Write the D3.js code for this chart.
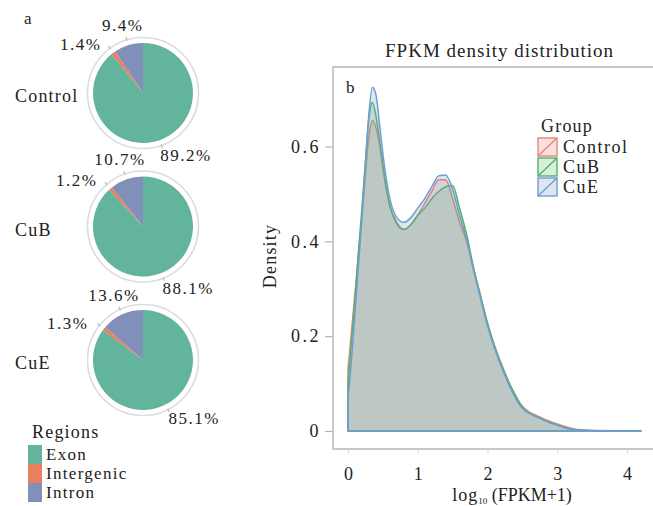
<!DOCTYPE html>
<html>
<head>
<meta charset="utf-8">
<script src="https://cdn.jsdelivr.net/npm/d3@7"></script>
<style>
  html, body { margin: 0; padding: 0; background: #ffffff; }
  svg { display: block; }
</style>
</head>
<body>
<svg id="chart" width="653" height="506" font-family="Liberation Serif, DejaVu Serif, serif"></svg>
<script>
// ---- panel a: read-region composition per sample ----
const samples = ["Control", "CuB", "CuE"];
const regionNames = ["Exon", "Intergenic", "Intron"];
const exonPct = [89.2, 88.1, 85.1];
const intergenicPct = [1.4, 1.2, 1.3];
const intronPct = [9.4, 10.7, 13.6];

// ---- panel b: FPKM density per group ----
const groups = ["Control", "CuB", "CuE"];
const logFpkm = [0, 0.05, 0.1, 0.15, 0.2, 0.25, 0.3, 0.35, 0.4, 0.45, 0.5, 0.55, 0.6, 0.7, 0.8, 0.9,
  1.0, 1.1, 1.2, 1.3, 1.4, 1.5, 1.6, 1.7, 1.8, 1.9, 2.0, 2.1, 2.2, 2.3, 2.4, 2.5, 2.6, 2.7, 2.8, 2.9,
  3.0, 3.1, 3.2, 3.3, 3.4, 3.6, 3.8, 4.0, 4.2];
const densityControl = [0.13, 0.21, 0.29, 0.37, 0.45, 0.54, 0.62, 0.655, 0.64, 0.605, 0.555, 0.51, 0.475, 0.44, 0.425, 0.435,
  0.455, 0.48, 0.505, 0.53, 0.53, 0.49, 0.44, 0.40, 0.34, 0.285, 0.225, 0.18, 0.14, 0.105, 0.075, 0.052, 0.04, 0.033, 0.026, 0.02,
  0.015, 0.01, 0.006, 0.003, 0.002, 0.001, 0.0005, 0.0002, 0];
const densityCuB = [0.10, 0.19, 0.28, 0.38, 0.47, 0.57, 0.66, 0.693, 0.665, 0.615, 0.56, 0.51, 0.475, 0.437, 0.425, 0.435,
  0.455, 0.47, 0.49, 0.505, 0.515, 0.518, 0.47, 0.415, 0.345, 0.285, 0.228, 0.18, 0.14, 0.105, 0.075, 0.05, 0.038, 0.03, 0.024, 0.018,
  0.013, 0.008, 0.004, 0.002, 0.001, 0.0005, 0.0002, 0.0001, 0];
const densityCuE = [0.07, 0.15, 0.25, 0.35, 0.45, 0.56, 0.67, 0.725, 0.71, 0.65, 0.585, 0.53, 0.49, 0.45, 0.44, 0.45,
  0.47, 0.49, 0.515, 0.538, 0.54, 0.51, 0.455, 0.405, 0.34, 0.28, 0.222, 0.175, 0.135, 0.10, 0.07, 0.048, 0.037, 0.03, 0.023, 0.017,
  0.012, 0.007, 0.004, 0.002, 0.001, 0.0005, 0.0003, 0.0001, 0];
const xTicks = [0, 1, 2, 3, 4];
const yTicks = [0, 0.2, 0.4, 0.6];

const svg = d3.select("#chart");
const serif = "Liberation Serif, DejaVu Serif, serif";
const textColor = "#222";
const gridGray = "#b5b5b5";

// ================= panel a =================
const regionColor = d3.scaleOrdinal()
  .domain(regionNames)
  .range(["#62b49c", "#e8805f", "#8190b9"]);

const pieCenters = d3.scaleLinear().domain([0, 2]).range([93, 360]);
const pieCx = 143;
const pieR = 50;
const ringR = 55.5;

const pie = d3.pie()
  .sort(null)
  .value(d => d.value)
  .startAngle(0)
  .endAngle(-2 * Math.PI);
const arc = d3.arc().innerRadius(0).outerRadius(pieR);

svg.append("text")
  .attr("x", 24).attr("y", 24)
  .attr("font-size", 17).attr("fill", textColor)
  .text("a");

samples.forEach((s, i) => {
  const cy = pieCenters(i);
  const slices = pie([
    { region: "Intron", value: intronPct[i] },
    { region: "Intergenic", value: intergenicPct[i] },
    { region: "Exon", value: exonPct[i] }
  ]);
  const g = svg.append("g").attr("transform", `translate(${pieCx},${cy})`);

  // outer polar ring
  g.append("circle")
    .attr("r", ringR)
    .attr("fill", "#ffffff")
    .attr("stroke", "#dcdcdc")
    .attr("stroke-width", 1.6);

  g.selectAll("path.slice")
    .data(slices)
    .join("path")
    .attr("class", "slice")
    .attr("d", arc)
    .attr("fill", d => regionColor(d.data.region));

  // angular ticks and percentage labels at slice mid-angles
  slices.forEach(d => {
    const a = (d.startAngle + d.endAngle) / 2;
    const sx = Math.sin(a), cyn = -Math.cos(a);
    g.append("line")
      .attr("x1", sx * (ringR - 1)).attr("y1", cyn * (ringR - 1))
      .attr("x2", sx * (ringR + 3)).attr("y2", cyn * (ringR + 3))
      .attr("stroke", "#bdbdbd").attr("stroke-width", 1.2);
    const lr = 70;
    const anchor = sx > 0.3 ? "start" : (sx < -0.5 ? "end" : "middle");
    const dx = anchor === "start" ? -6 : 0;
    const dy = anchor === "start" ? 2 : (anchor === "end" ? 13 : 5);
    g.append("text")
      .attr("x", sx * lr + dx)
      .attr("y", cyn * lr + dy)
      .attr("text-anchor", anchor)
      .attr("font-size", 17)
      .attr("letter-spacing", 1.5)
      .attr("fill", textColor)
      .text(d.data.value.toFixed(1) + "%");
  });

  svg.append("text")
    .attr("x", 15).attr("y", cy + 9)
    .attr("font-size", 18)
    .attr("letter-spacing", 1.2)
    .attr("fill", textColor)
    .text(s);
});

// region legend
const regLeg = svg.append("g").attr("transform", "translate(28,445)");
regLeg.append("text")
  .attr("x", 4).attr("y", -7)
  .attr("font-size", 18).attr("letter-spacing", 1.2)
  .attr("fill", textColor)
  .text("Regions");
regionNames.forEach((r, i) => {
  regLeg.append("rect")
    .attr("x", 0).attr("y", i * 19)
    .attr("width", 14).attr("height", 19)
    .attr("fill", regionColor(r));
  regLeg.append("text")
    .attr("x", 18).attr("y", i * 19 + 15)
    .attr("font-size", 17).attr("letter-spacing", 1.3)
    .attr("fill", textColor)
    .text(r);
});

// ================= panel b =================
const x = d3.scaleLinear().domain([0, 4]).range([348, 627]);
const y = d3.scaleLinear().domain([0, 0.6]).range([431, 146.5]);

const frame = { left: 333, top: 67, bottom: 449 };

svg.append("text")
  .attr("x", 499).attr("y", 57)
  .attr("text-anchor", "middle")
  .attr("font-size", 19)
  .attr("textLength", 228).attr("lengthAdjust", "spacing")
  .attr("fill", textColor)
  .text("FPKM density distribution");

const groupStroke = d3.scaleOrdinal().domain(groups).range(["#e8847c", "#4fb466", "#6e9cd6"]);
const groupFill = d3.scaleOrdinal().domain(groups).range(["rgba(238,128,122,0.25)", "rgba(96,186,110,0.25)", "rgba(120,155,200,0.25)"]);
const seriesValues = [densityControl, densityCuB, densityCuE];

const area = d3.area()
  .x(d => x(d[0]))
  .y0(y(0))
  .y1(d => y(d[1]))
  .curve(d3.curveMonotoneX);

groups.forEach((gname, gi) => {
  const pts = logFpkm.map((v, k) => [v, seriesValues[gi][k]]);
  svg.append("path")
    .datum(pts)
    .attr("d", area)
    .attr("fill", groupFill(gname))
    .attr("stroke", groupStroke(gname))
    .attr("stroke-width", 1.5)
    .attr("stroke-linejoin", "round");
});

// panel frame (right side runs past the page edge)
svg.append("path")
  .attr("d", `M700,${frame.top}H${frame.left}V${frame.bottom}H700`)
  .attr("fill", "none")
  .attr("stroke", gridGray)
  .attr("stroke-width", 1.4);

// y axis
const yAxis = svg.append("g")
  .attr("transform", `translate(${frame.left},0)`)
  .call(d3.axisLeft(y).tickValues(yTicks).tickSize(8).tickPadding(4)
    .tickFormat(d => d === 0 ? "0" : d.toFixed(1)));
yAxis.attr("font-family", serif);
yAxis.select(".domain").remove();
yAxis.selectAll(".tick line").attr("stroke", gridGray).attr("stroke-width", 1.2);
yAxis.selectAll(".tick text")
  .attr("font-size", 18).attr("letter-spacing", 2.5)
  .attr("fill", textColor);

// x axis
const xAxis = svg.append("g")
  .attr("transform", `translate(0,${frame.bottom})`)
  .call(d3.axisBottom(x).tickValues(xTicks).tickSize(4).tickPadding(14)
    .tickFormat(d3.format("d")));
xAxis.attr("font-family", serif);
xAxis.select(".domain").remove();
xAxis.selectAll(".tick line").attr("stroke", "#cfcfcf").attr("stroke-width", 1);
xAxis.selectAll(".tick text")
  .attr("font-size", 18)
  .attr("fill", textColor);

// axis titles
svg.append("text")
  .attr("transform", "translate(276,256) rotate(-90)")
  .attr("text-anchor", "middle")
  .attr("font-size", 18).attr("letter-spacing", 1.2)
  .attr("fill", textColor)
  .text("Density");

const xTitle = svg.append("text")
  .attr("x", 512).attr("y", 501)
  .attr("text-anchor", "middle")
  .attr("font-size", 18)
  .attr("fill", textColor);
xTitle.append("tspan").attr("letter-spacing", 1).text("log");
xTitle.append("tspan").attr("font-size", 9).attr("dy", 3).text("10");
xTitle.append("tspan").attr("dy", -3).text(" (FPKM+1)");

svg.append("text")
  .attr("x", 346).attr("y", 93)
  .attr("font-size", 17).attr("fill", textColor)
  .text("b");

// group legend
const gLeg = svg.append("g").attr("transform", "translate(537,137)");
gLeg.append("text")
  .attr("x", 4).attr("y", -5)
  .attr("font-size", 18).attr("letter-spacing", 1.2)
  .attr("fill", textColor)
  .text("Group");
groups.forEach((gname, i) => {
  const ky = i * 20;
  gLeg.append("rect")
    .attr("x", 1).attr("y", ky + 1)
    .attr("width", 19).attr("height", 18)
    .attr("fill", groupFill(gname))
    .attr("stroke", groupStroke(gname))
    .attr("stroke-width", 1.4);
  gLeg.append("line")
    .attr("x1", 1).attr("y1", ky + 19)
    .attr("x2", 20).attr("y2", ky + 1)
    .attr("stroke", groupStroke(gname))
    .attr("stroke-width", 1.4);
  gLeg.append("text")
    .attr("x", 26).attr("y", ky + 16)
    .attr("font-size", 18).attr("letter-spacing", 1.5)
    .attr("fill", textColor)
    .text(gname);
});
</script>
</body>
</html>
